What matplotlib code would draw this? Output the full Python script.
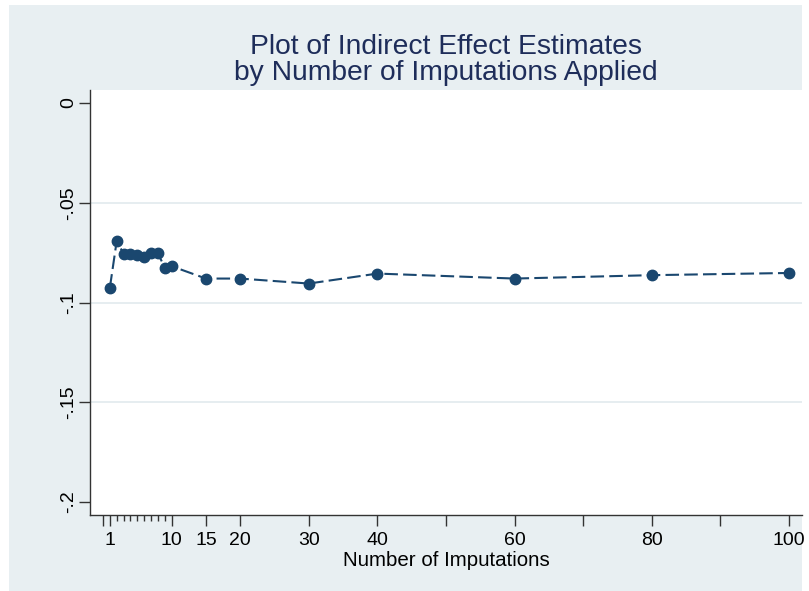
import matplotlib
matplotlib.use("Agg")
import matplotlib.pyplot as plt
from matplotlib.patches import Rectangle

# Data
imputations = [1, 2, 3, 4, 5, 6, 7, 8, 9, 10, 15, 20, 30, 40, 60, 80, 100]
estimates = [-0.0925, -0.0690, -0.0757, -0.0757, -0.0763, -0.0772, -0.0752, -0.0752,
             -0.0827, -0.0818, -0.0880, -0.0880, -0.0905, -0.0855, -0.0880, -0.0863, -0.0852]
x_major_ticks = [0, 1, 10, 15, 20, 30, 40, 50, 60, 70, 80, 90, 100]
x_major_labels = ["", "1", "10", "15", "20", "30", "40", "", "60", "", "80", "", "100"]
x_minor_ticks = [2, 3, 4, 5, 6, 7, 8, 9]
y_ticks = [0, -0.05, -0.1, -0.15, -0.2]
y_labels = ["0", "-.05", "-.1", "-.15", "-.2"]
title = "Plot of Indirect Effect Estimates\nby Number of Imputations Applied"
xlabel = "Number of Imputations"

plt.rcParams['font.family'] = ['Liberation Sans', 'DejaVu Sans']

W, H = 809, 591
fig = plt.figure(figsize=(W / 100, H / 100), dpi=100)
fig.patch.set_facecolor("white")
bg = "#e8eff2"
rect = Rectangle((9 / W, 0), (802 - 9) / W, (H - 5) / H,
                 transform=fig.transFigure, facecolor=bg, edgecolor="none", zorder=-10)
fig.add_artist(rect)

L, R, T, B = 90, 802, 90, 515
ax = fig.add_axes([L / W, (H - B) / H, (R - L) / W, (B - T) / H])
ax.set_zorder(1)
ax.set_facecolor("white")

navy = "#1a476f"
ax.plot(imputations, estimates, linestyle=(0, (6.5, 2.5)), color=navy, linewidth=1.5,
        marker="o", markersize=7.5, markerfacecolor=navy, markeredgecolor=navy, zorder=3)

ax.set_xlim(-1.9, 101.9)
ax.set_ylim(-0.2065, 0.0065)

for yv in [-0.05, -0.1, -0.15]:
    ax.axhline(yv, color="#e4ecef", linewidth=1.3, zorder=1)

ax.set_xticks(x_major_ticks)
ax.set_xticklabels(x_major_labels)
ax.set_xticks(x_minor_ticks, minor=True)
ax.set_yticks(y_ticks)
ax.set_yticklabels(y_labels, rotation=90, va="center")

ax.tick_params(axis="both", which="major", length=8, width=1, color="#333333",
               labelsize=14, labelcolor="black", pad=4)
ax.tick_params(axis="x", which="minor", length=4, width=1, color="#333333")
ax.tick_params(axis="y", pad=1)

for s in ["top", "right"]:
    ax.spines[s].set_visible(False)
for s in ["left", "bottom"]:
    ax.spines[s].set_color("#333333")
    ax.spines[s].set_linewidth(1)

ax.set_xlabel(xlabel, fontsize=14.8, labelpad=2)
fig.text((L + R) / 2 / W, 1 - 60 / H, title, ha="center", va="center",
         fontsize=20.3, color="#1e2d5a", linespacing=1.0)

fig.savefig("out.png", dpi=100, facecolor=fig.get_facecolor())
